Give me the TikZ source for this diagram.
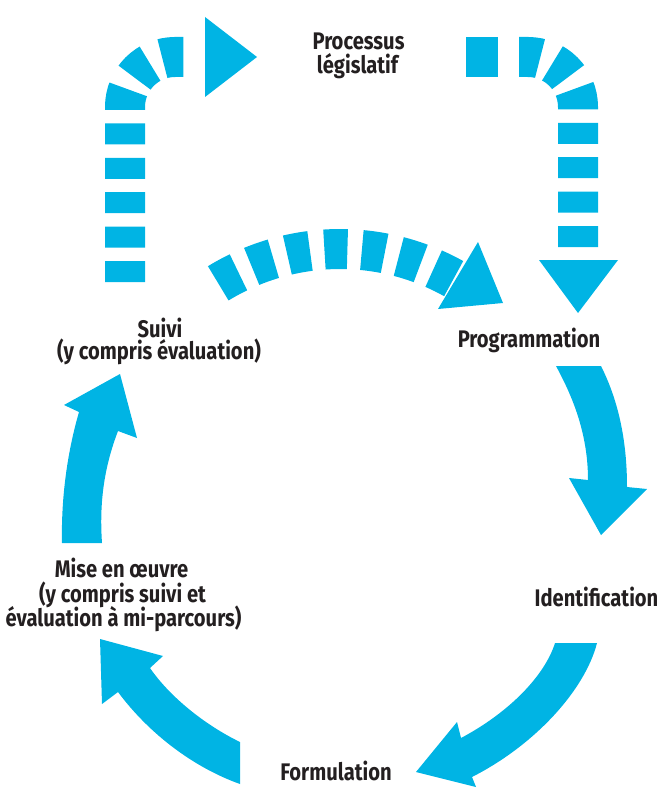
\documentclass[tikz,border=0pt]{standalone}
\usepackage{fontspec}
\setmainfont{Fira Sans}[FakeStretch=0.84]
\definecolor{cyanb}{RGB}{0,180,228}
\definecolor{ink}{RGB}{35,31,32}
\begin{document}
\begin{tikzpicture}[x=1pt,y=-1pt,
  dashline/.style={draw=cyanb,line width=40pt},
  solidarrow/.style={fill=cyanb},
  lbl/.style={anchor=base,inner sep=0pt,text=ink,font=\fontsize{24}{26}\selectfont\bfseries}]
\useasboundingbox (0,0) rectangle (661,789);
% --- top-left dashed path (Suivi -> Processus legislatif)
\draw[dashline,dash pattern=on 21pt off 13.4pt] (125,282) -- (125,107) arc[start angle=180,end angle=270,radius=50] -- (190,57);
\fill[cyanb] (205,17) -- (257,57) -- (205,97) -- cycle;
% --- top-right dashed path (Processus legislatif -> Programmation)
\fill[cyanb] (466,37) rectangle (498,77);
\draw[dashline,dash pattern=on 21pt off 13.4pt] (578,247) -- (578,107) arc[start angle=0,end angle=-90,radius=50] -- (514,57);
\fill[cyanb] (539,260) -- (618,260) -- (578,313) -- cycle;
% --- middle dashed arc (Suivi -> Programmation)
\coordinate (C) at (340,482);
\draw[dashline,dash pattern=on 23pt off 14.5pt] (C) ++(-121.5:233) arc[start angle=-121.5,end angle=-66.3,radius=233];
\draw[dashline] (C) ++(-66.3:233) arc[start angle=-66.3,end angle=-60.8,radius=233];
\fill[cyanb] (438,309) -- (478,242) -- (503,303) -- cycle;
% --- Programmation -> Identification
\fill[cyanb] (556,366) -- (601,366) .. controls (614,392) and (627,430) .. (627,487) -- (647,489) -- (601,535) -- (569,478) -- (588,480) .. controls (588,430) and (570,392) .. (556,366) -- cycle;
% --- Identification -> Formulation
\fill[cyanb] (555,643) -- (597,643) .. controls (585,690) and (535,745) .. (472,777) -- (476,787) -- (416,772) -- (457,722) -- (461,738) .. controls (510,712) and (545,675) .. (555,643) -- cycle;
% --- Formulation -> Mise en oeuvre
\fill[cyanb] (100,639) -- (163,656) -- (150,668) .. controls (170,697) and (205,725) .. (240,742) -- (240,784) .. controls (195,768) and (150,735) .. (118,692) -- (102,704) -- cycle;
% --- Mise en oeuvre -> Suivi
\fill[cyanb] (120,374) -- (137,438) -- (118,431) .. controls (105,465) and (99,500) .. (102,543) -- (62,543) .. controls (61,495) and (68,450) .. (79,412) -- (64,405) -- cycle;
% --- labels
\node[lbl] (proc1) at (358.5,49.5) {Processus};
\node[lbl] (proc2) at (357.5,73.5) {législatif};
\node[lbl] (suivi1) at (160,337) {Suivi};
\node[lbl] (suivi2) at (159,359.5) {(y compris évaluation)};
\node[lbl] (prog) at (529,347) {Programmation};
\node[lbl] (ident) at (596.5,606) {Identification};
\node[lbl] (form) at (336,780) {Formulation};
\node[lbl] (mise1) at (121.5,577) {Mise en œuvre};
\node[lbl] (mise2) at (122.5,602) {(y compris suivi et};
\node[lbl] (mise3) at (123.5,626.5) {évaluation à mi-parcours)};
\end{tikzpicture}
\end{document}
